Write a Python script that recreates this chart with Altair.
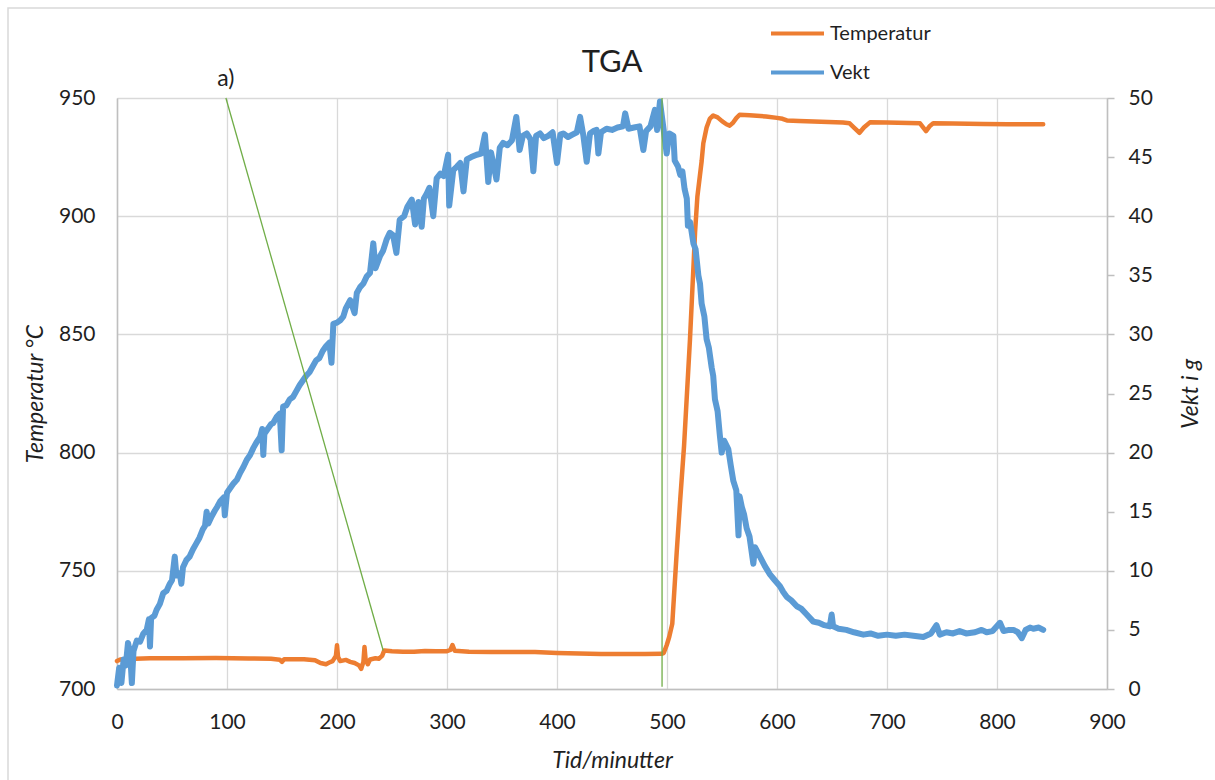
import altair as alt
import pandas as pd

FONT = "Lato"
TXT = "#1f1f1f"
ORANGE = "#ed7d31"
BLUE = "#5b9bd5"
GREEN = "#70ad47"

chart_title = "TGA"
series_names = ["Temperatur", "Vekt"]
x_title = "Tid/minutter"
y_left_title = "Temperatur °C"
y_right_title = "Vekt i g"

x_ticks = [0, 100, 200, 300, 400, 500, 600, 700, 800, 900]
temp_ticks = [700, 750, 800, 850, 900, 950]
weight_ticks = [0, 5, 10, 15, 20, 25, 30, 35, 40, 45, 50]

# Temperature (°C)
temp_t = [0, 3, 10, 30, 60, 90, 120, 140, 148, 150, 152, 170, 180, 185, 190, 193, 196, 199, 200, 201,
          203, 208, 212, 216, 220, 222, 224, 225, 226, 228, 230, 235, 238, 241, 243, 250, 260, 270, 280,
          290, 300, 303, 305, 307, 320, 340, 360, 380, 400, 420, 440, 460, 480, 495, 497, 499.7, 502,
          504.8, 508.8, 512, 515.5, 520.9, 524, 525.5, 527.6, 531.5, 533, 536, 539, 542, 546, 550, 554,
          557, 560, 563, 566, 575, 590, 600, 605, 609, 620, 640, 660, 666, 670, 675, 679, 684.5, 700,
          720, 730, 733, 735.5, 739, 742, 760, 787.6, 810, 842]
temp_v = [711.8, 712.5, 712.7, 713.0, 713.0, 713.1, 712.9, 712.8, 712.4, 711.5, 712.6, 712.6, 712.2, 711.0,
          710.5, 711.2, 711.8, 714.0, 718.5, 713.5, 711.8, 712.3, 711.5, 711.0, 710.0, 708.5, 711.5, 717.8,
          712.5, 710.5, 712.5, 713.0, 712.8, 714.0, 716.3, 716.0, 715.8, 715.8, 716.1, 716.0, 716.0, 716.5,
          718.6, 716.2, 715.8, 715.7, 715.6, 715.6, 715.2, 715.0, 714.8, 714.8, 714.8, 714.9, 715.2, 718.5,
          722.0, 727.6, 757.7, 780.0, 802.8, 848.0, 878.1, 893.2, 908.2, 923.3, 930.8, 937.5, 941.3, 942.6,
          941.8, 940.2, 938.9, 938.3, 939.5, 941.5, 942.9, 942.7, 942.2, 941.6, 941.2, 940.5, 940.3, 940.0,
          939.6, 939.3, 937.5, 935.3, 937.5, 939.7, 939.6, 939.4, 939.3, 937.5, 936.0, 938.2, 939.3, 939.2,
          939.0, 938.9, 938.9]

# Weight (g)
weight_t = [0, 2, 4, 6, 8, 10, 12, 13.5, 15, 18, 21, 24, 27, 29, 30, 31, 34, 36, 39, 42, 45, 48, 50, 52.5,
            54, 57, 58.5, 60, 63, 66, 69, 72, 75, 78, 80, 81.5, 83, 86, 89, 91, 94, 97, 98, 100, 103, 106,
            109, 112, 115, 118, 121, 124, 127, 130, 132, 133, 134, 137, 140, 142, 145, 148, 149.7, 151, 154,
            157, 160, 163, 166, 169, 172, 175, 178, 181, 184, 187, 190, 193, 195, 196.7, 200, 203, 205.7,
            208, 212, 216, 218, 221, 224, 227, 230, 233, 235, 239, 242, 245, 248, 251, 254, 257, 261, 264,
            268, 271, 274, 277, 279, 281.5, 284, 287.5, 290.6, 294, 297, 301, 302, 305.7, 309, 312, 315, 318,
            322, 327, 331, 334.5, 337.5, 340, 345, 348, 351, 355, 359, 363, 366, 369, 372.5, 376, 378.5, 381,
            384.5, 388, 392, 396, 400, 403, 405.7, 410, 414, 418, 421, 424, 427, 430, 433, 436, 437.6, 440,
            445, 450, 455, 460, 462, 465, 470, 475, 478.5, 481, 485, 489, 491, 493.6, 496.7, 499.7, 502,
            505.8, 507, 510, 512, 514, 516, 518, 519, 521, 524, 526, 528.5, 530, 531.5, 534, 536, 538, 540.6,
            542, 543.6, 546, 548, 549.7, 552, 555.7, 558, 560.3, 563, 565, 566, 568, 570, 572.4, 575, 578.5,
            580, 584.5, 589, 593.6, 598, 602.7, 605.7, 608.8, 613, 618, 622, 627, 633, 638, 643, 648, 649.7,
            651, 656, 663, 670, 678.5, 685, 692, 700, 708, 716, 724, 733, 740, 745, 748, 754, 760, 766, 772,
            780, 786, 790.6, 796, 802.7, 806, 811, 815, 819, 822.5, 826, 830, 833, 838, 842]
weight_v = [0.3, 1.8, 0.5, 2.5, 2.0, 3.9, 3.0, 0.5, 3.2, 4.1, 4.0, 4.7, 5.0, 5.9, 3.6, 6.0, 6.2, 6.7, 7.2, 8.1,
            8.3, 8.9, 9.2, 11.2, 9.6, 9.8, 8.9, 10.3, 10.9, 11.2, 11.8, 12.3, 12.8, 13.5, 13.8, 15.0, 14.0,
            14.6, 15.1, 15.4, 15.9, 16.2, 14.7, 16.6, 17.0, 17.4, 17.7, 18.3, 18.8, 19.4, 19.8, 20.4, 20.9,
            21.3, 22.0, 19.8, 21.6, 22.0, 22.4, 22.5, 23.0, 23.3, 20.2, 23.9, 24.0, 24.5, 24.7, 25.2, 25.7,
            26.1, 26.5, 26.8, 27.3, 27.8, 28.0, 28.6, 29.0, 29.3, 27.6, 30.9, 31.0, 31.2, 31.5, 32.2, 32.9,
            31.8, 33.5, 34.0, 34.3, 34.9, 35.2, 37.7, 35.6, 36.6, 37.1, 38.0, 38.6, 38.4, 36.9, 39.7, 40.0,
            40.8, 41.4, 39.3, 41.2, 39.1, 41.5, 41.9, 42.4, 40.0, 43.2, 43.6, 43.4, 45.2, 40.9, 43.9, 44.2,
            44.5, 42.1, 44.8, 45.0, 45.2, 45.3, 46.9, 42.9, 45.4, 43.1, 45.8, 46.2, 46.0, 46.4, 48.4, 45.6,
            46.8, 47.0, 46.5, 43.8, 46.8, 47.0, 46.6, 46.8, 47.1, 44.5, 46.9, 47.0, 46.7, 46.9, 47.1, 48.4,
            46.8, 44.6, 47.0, 47.2, 47.3, 45.3, 47.1, 47.4, 47.3, 47.5, 47.6, 48.7, 47.4, 47.5, 47.6, 45.6,
            47.2, 47.6, 49.0, 47.3, 49.7, 47.5, 45.3, 47.0, 46.8, 44.7, 44.2, 43.5, 43.8, 42.3, 41.5, 39.2,
            39.5, 37.7, 37.2, 35.0, 34.3, 32.6, 31.5, 29.6, 28.9, 27.2, 26.5, 24.5, 23.5, 21.5, 20.0, 21.0,
            20.3, 18.9, 17.6, 16.8, 13.0, 16.3, 15.4, 14.8, 13.6, 12.9, 10.6, 12.0, 11.2, 10.4, 9.7, 9.2,
            8.7, 8.2, 7.8, 7.5, 7.0, 6.8, 6.3, 5.7, 5.6, 5.4, 5.3, 6.3, 5.3, 5.1, 5.0, 4.8, 4.6, 4.7, 4.5,
            4.6, 4.5, 4.6, 4.5, 4.4, 4.7, 5.4, 4.6, 4.8, 4.7, 4.9, 4.7, 4.8, 5.0, 4.8, 4.9, 5.6, 4.9, 5.0,
            5.0, 4.8, 4.3, 5.0, 5.2, 5.1, 5.2, 5.0]

# Annotation "a)": green lines (time, °C)
annot_label = "a)"
annot_label_t = [99]
annot_label_T = [955]
diag_t1, diag_T1, diag_t2, diag_T2 = [99], [950], [242], [716.3]
vert_t1, vert_T1, vert_t2, vert_T2 = [495.5], [701], [495.5], [950]

temp_df = pd.DataFrame({"t": temp_t, "v": temp_v, "series": series_names[0]})
weight_df = pd.DataFrame({"t": weight_t, "v": weight_v, "series": series_names[1]})
lines_df = pd.DataFrame({
    "t": diag_t1 + vert_t1, "T1": diag_T1 + vert_T1,
    "t2": diag_t2 + vert_t2, "T2": diag_T2 + vert_T2,
})
label_df = pd.DataFrame({"t": annot_label_t, "T": annot_label_T, "label": [annot_label]})
one_df = pd.DataFrame({"label": [chart_title]})

W, H = 990, 591
x_scale = alt.Scale(domain=[0, 900], nice=False, zero=False)
t_scale = alt.Scale(domain=[700, 950], nice=False, zero=False)
w_scale = alt.Scale(domain=[0, 50], nice=False, zero=False)

color = alt.Color(
    "series:N",
    scale=alt.Scale(domain=series_names, range=[ORANGE, BLUE]),
    legend=alt.Legend(
        title=None, orient="none", legendX=652, legendY=-93, direction="vertical",
        symbolType="stroke", symbolSize=2809, symbolStrokeWidth=4,
        labelFont=FONT, labelFontSize=20, labelColor=TXT, labelOffset=4,
        rowPadding=-9, padding=0,
    ),
)

x_axis = alt.Axis(
    values=x_ticks, title=x_title, grid=True, gridColor="#d9d9d9", gridWidth=1.3,
    domain=True, domainColor="#bfbfbf", domainWidth=1.5, ticks=False, labelFlush=False,
    labelFont=FONT, labelFontSize=21, labelColor=TXT, labelPadding=22,
    titleFont=FONT, titleFontSize=23, titleFontStyle="italic", titleFontWeight="normal",
    titleColor=TXT, titleX=W / 2, titleY=71, titleBaseline="middle",
)
X = alt.X("t:Q", scale=x_scale, axis=x_axis)

temp_line = alt.Chart(temp_df).mark_line(strokeWidth=4.5, strokeCap="round", strokeJoin="round").encode(
    x=X,
    y=alt.Y("v:Q", scale=t_scale, axis=alt.Axis(
        orient="left", values=temp_ticks, title=y_left_title, grid=True, gridColor="#d9d9d9",
        gridWidth=1.3, domain=True, domainColor="#bfbfbf", domainWidth=1.5, ticks=False,
        labelFont=FONT, labelFontSize=21, labelColor=TXT, labelPadding=22,
        titleFont=FONT, titleFontSize=23, titleFontStyle="italic", titleFontWeight="normal",
        titleColor=TXT, titleX=-82, titleY=H / 2, titleAngle=270, titleBaseline="middle",
    )),
    color=color,
)

weight_line = alt.Chart(weight_df).mark_line(strokeWidth=6, strokeCap="round", strokeJoin="round").encode(
    x=X,
    y=alt.Y("v:Q", scale=w_scale, axis=alt.Axis(
        orient="right", values=weight_ticks, title=y_right_title, grid=False,
        domain=True, domainColor="#bfbfbf", domainWidth=1.5, ticks=True, tickSize=7,
        tickColor="#bfbfbf", tickWidth=1.5, labelAlign="left",
        labelFont=FONT, labelFontSize=21, labelColor=TXT, labelPadding=14,
        titleFont=FONT, titleFontSize=23, titleFontStyle="italic", titleFontWeight="normal",
        titleColor=TXT, titleX=83, titleY=H / 2, titleAngle=270, titleBaseline="middle",
    )),
    color=color,
)

green_rules = alt.Chart(lines_df).mark_rule(color=GREEN, strokeWidth=1.3).encode(
    x=X,
    x2="t2:Q",
    y=alt.Y("T1:Q", scale=t_scale, axis=None),
    y2="T2:Q",
)
a_text = alt.Chart(label_df).mark_text(font=FONT, fontSize=23, color=TXT, baseline="alphabetic", align="center").encode(
    x=X,
    y=alt.Y("T:Q", scale=t_scale, axis=None),
    text="label:N",
)
annot = alt.layer(green_rules, a_text)

title_mark = alt.Chart(one_df).mark_text(font=FONT, fontSize=31, color=TXT, baseline="alphabetic", align="center").encode(
    x=alt.value(W / 2), y=alt.value(-26), text="label:N",
)
frame = alt.Chart(one_df).mark_rect(fill="transparent", stroke="#d9d9d9", strokeWidth=1.5).encode(
    x=alt.value(-109), x2=alt.value(1140), y=alt.value(-90), y2=alt.value(720),
)

chart = alt.layer(frame, temp_line, weight_line, annot, title_mark).resolve_scale(
    y="independent"
).properties(
    width=W, height=H,
    autosize=alt.AutoSizeParams(type="none"),
    padding={"left": 117, "top": 98, "right": 108, "bottom": 91},
).configure_view(strokeWidth=0).configure(background="white")

chart.save("out.html", embed_options={"renderer": "svg", "actions": False})
